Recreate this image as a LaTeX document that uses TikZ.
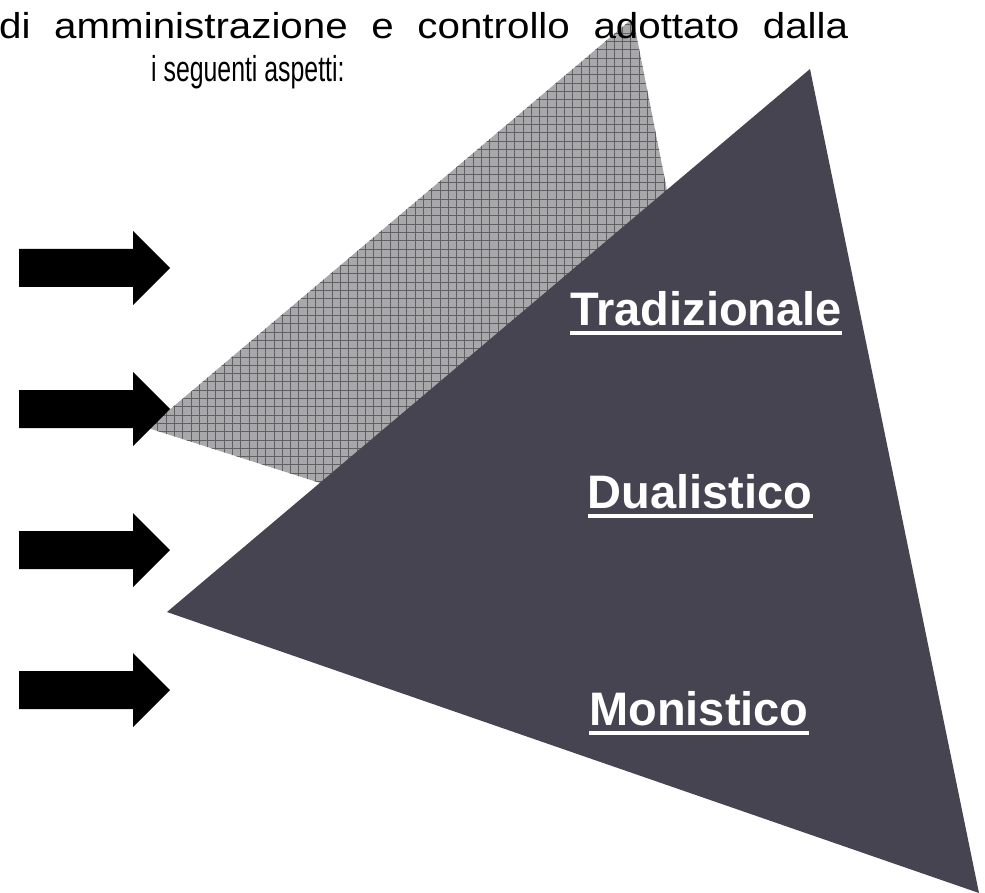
\documentclass[tikz,border=0pt]{standalone}
\usepackage{fontspec}
\setmainfont{Liberation Sans}
\newfontfamily\wideheadfont[FakeStretch=1.12]{Liberation Sans}
\newfontfamily\narrowheadfont[FakeStretch=0.69]{Liberation Sans}
\definecolor{darktri}{RGB}{70,68,80}
\definecolor{graytri}{RGB}{168,168,170}
\definecolor{gridln}{RGB}{95,95,100}
\tikzset{
  lbl/.style={text=white, font=\fontsize{47}{56}\selectfont\bfseries, inner sep=0pt, anchor=base},
  uline/.style={draw=white, line width=4.5pt},
  hdrA/.style={font=\wideheadfont\fontsize{36}{43}\selectfont, inner sep=0pt, anchor=base west},
  hdrB/.style={font=\narrowheadfont\fontsize{36}{43}\selectfont, inner sep=0pt, anchor=base west},
  blockarrow/.style={fill=black, draw=none}
}
\begin{document}
\begin{tikzpicture}[x=1pt,y=-1pt]
\useasboundingbox (0,0) rectangle (985,893);
% gray hatched triangle
\coordinate (g1) at (148,428);
\coordinate (g2) at (633,18);
\coordinate (g3) at (752,621);
\fill[graytri] (g1) -- (g2) -- (g3) -- cycle;
\begin{scope}
  \clip (g1) -- (g2) -- (g3) -- cycle;
  \draw[gridln, line width=0.8pt, step=8.3pt] (140,0) grid (770,640);
\end{scope}
% dark triangle
\coordinate (d1) at (167,612);
\coordinate (d2) at (810,69);
\coordinate (d3) at (979,893);
\fill[darktri] (d1) -- (d2) -- (d3) -- cycle;
% block arrows
\foreach \i/\c in {1/268,2/409,3/550,4/690}{
  \fill[blockarrow] (19,\c-19) -- (133,\c-19) -- (133,\c-37) -- (170,\c)
     -- (133,\c+37) -- (133,\c+19) -- (19,\c+19) -- cycle;
}
% header text
\node[hdrA] (h1) at (-1,39) {\makebox[849pt][s]{di amministrazione e controllo adottato dalla}};
\node[hdrB] (h2) at (151,82) {i seguenti aspetti:};
% labels
\node[lbl] (t1) at (706,325) {Tradizionale};
\node[lbl] (t2) at (700,508) {Dualistico};
\node[lbl] (t3) at (699,725) {Monistico};
\foreach \n in {t1,t2,t3}{
  \draw[uline] ([yshift=-8pt]\n.base west) -- ([yshift=-8pt]\n.base east);
}
\end{tikzpicture}
\end{document}
